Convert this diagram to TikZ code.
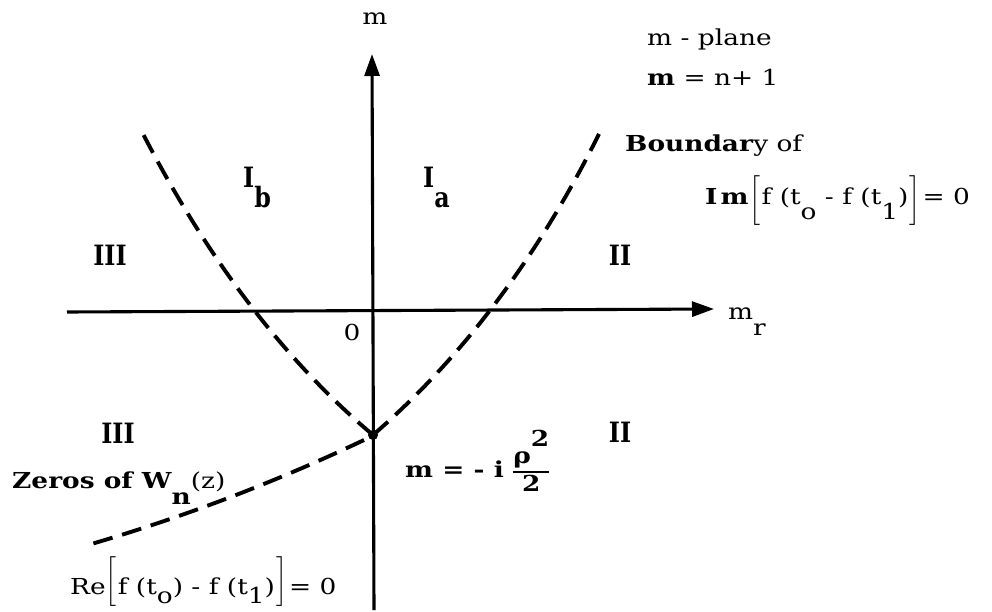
\documentclass[tikz,border=0pt]{standalone}
\usepackage{amsmath}
\usepackage{fontspec}
\setmainfont{DejaVu Serif}[FakeStretch=1.2]
\newfontfamily\romfont{DejaVu Serif}[FakeStretch=0.85]
\usetikzlibrary{arrows.meta}
\newcommand\lowr[2]{\raisebox{-#1}{#2}}
\newcommand\lbr[2]{\raisebox{#1}{$\left[\vrule height #2 depth #2 width 0pt\right.$}}
\newcommand\rbr[2]{\raisebox{#1}{$\left.\vrule height #2 depth #2 width 0pt\right]$}}
\begin{document}
\begin{tikzpicture}[x=1pt,y=-1pt,
  font=\fontsize{22}{26}\selectfont,
  axis/.style={line width=3.1pt,-{Triangle[length=22pt,width=15pt]}},
  bnd/.style={line width=3.9pt,dash pattern=on 20pt off 10pt},
  lbl/.style={inner sep=0pt,anchor=base west},
  roman/.style={inner sep=0pt,font=\fontsize{28}{30}\romfont\bfseries}]
\useasboundingbox (0,0) rectangle (992,612);
% axes
\coordinate (xl) at (67,312);
\coordinate (xr) at (714,309);
\coordinate (yb) at (374,610);
\coordinate (yt) at (372,54);
\draw[axis] (xl) -- (xr);
\draw[axis] (yb) -- (yt);
% saddle point
\node[circle,fill,inner sep=0pt,minimum size=10pt] (s) at (373,435) {};
\coordinate (rt) at (599,134);
\coordinate (lt) at (141,130);
\coordinate (ls) at (364,440);
\coordinate (le) at (88,545);
\draw[bnd] (s.center) .. controls (462.3,357.7) and (537.7,257.3) .. (rt);
\draw[bnd] (s.center) .. controls (284.3,360.3) and (207,258.7) .. (lt);
\draw[bnd] (ls) .. controls (276.3,481.7) and (184,517) .. (le);
% labels
\node[inner sep=0pt,anchor=base] (mlab) at (375,25) {m};
\node[lbl] (mr) at (728,319) {m\lowr{0.75em}{r}};
\node[inner sep=0pt] (zero) at (352,332) {0};
\node[lbl] (plane) at (647,46) {m - plane};
\node[lbl] (mn) at (647,86) {\textbf{m} = n+ 1};
\node[lbl] (bnda) at (625,152) {\textbf{Boundar}y of};
\node[lbl] (imf) at (705,205) {\textbf{I\kern3pt m}\kern1pt\lbr{-1pt}{17pt}f (t\lowr{0.65em}{o} - f (t\lowr{0.65em}{1})\rbr{-1pt}{17pt}\kern2pt= 0};
\node[lbl] (ref) at (70,594) {Re\lbr{7pt}{18pt}f (t\lowr{0.45em}{o}) - f (t\lowr{0.45em}{1})\rbr{7pt}{18pt}\kern2pt= 0};
\node[lbl] (zer) at (12,488) {\textbf{Zeros of W\lowr{0.75em}{n}}(z)};
\node[lbl] (mval) at (405,477) {\textbf{m = - i} $\genfrac{}{}{2.2pt}{}{\hbox{\textbf{ρ}\raisebox{0.8em}{\textbf{2}}}}{\hbox{\textbf{2}}}$};
\node[roman] (r3a) at (110,255) {III};
\node[roman] (r3b) at (118,433) {III};
\node[roman] (r2a) at (620,255) {II};
\node[roman] (r2b) at (620,432) {II};
\node[lbl,roman,anchor=base west] (ib) at (243,188) {I\lowr{0.7em}{b}};
\node[lbl,roman,anchor=base west] (ia) at (423,188) {I\lowr{0.7em}{a}};
\end{tikzpicture}
\end{document}
